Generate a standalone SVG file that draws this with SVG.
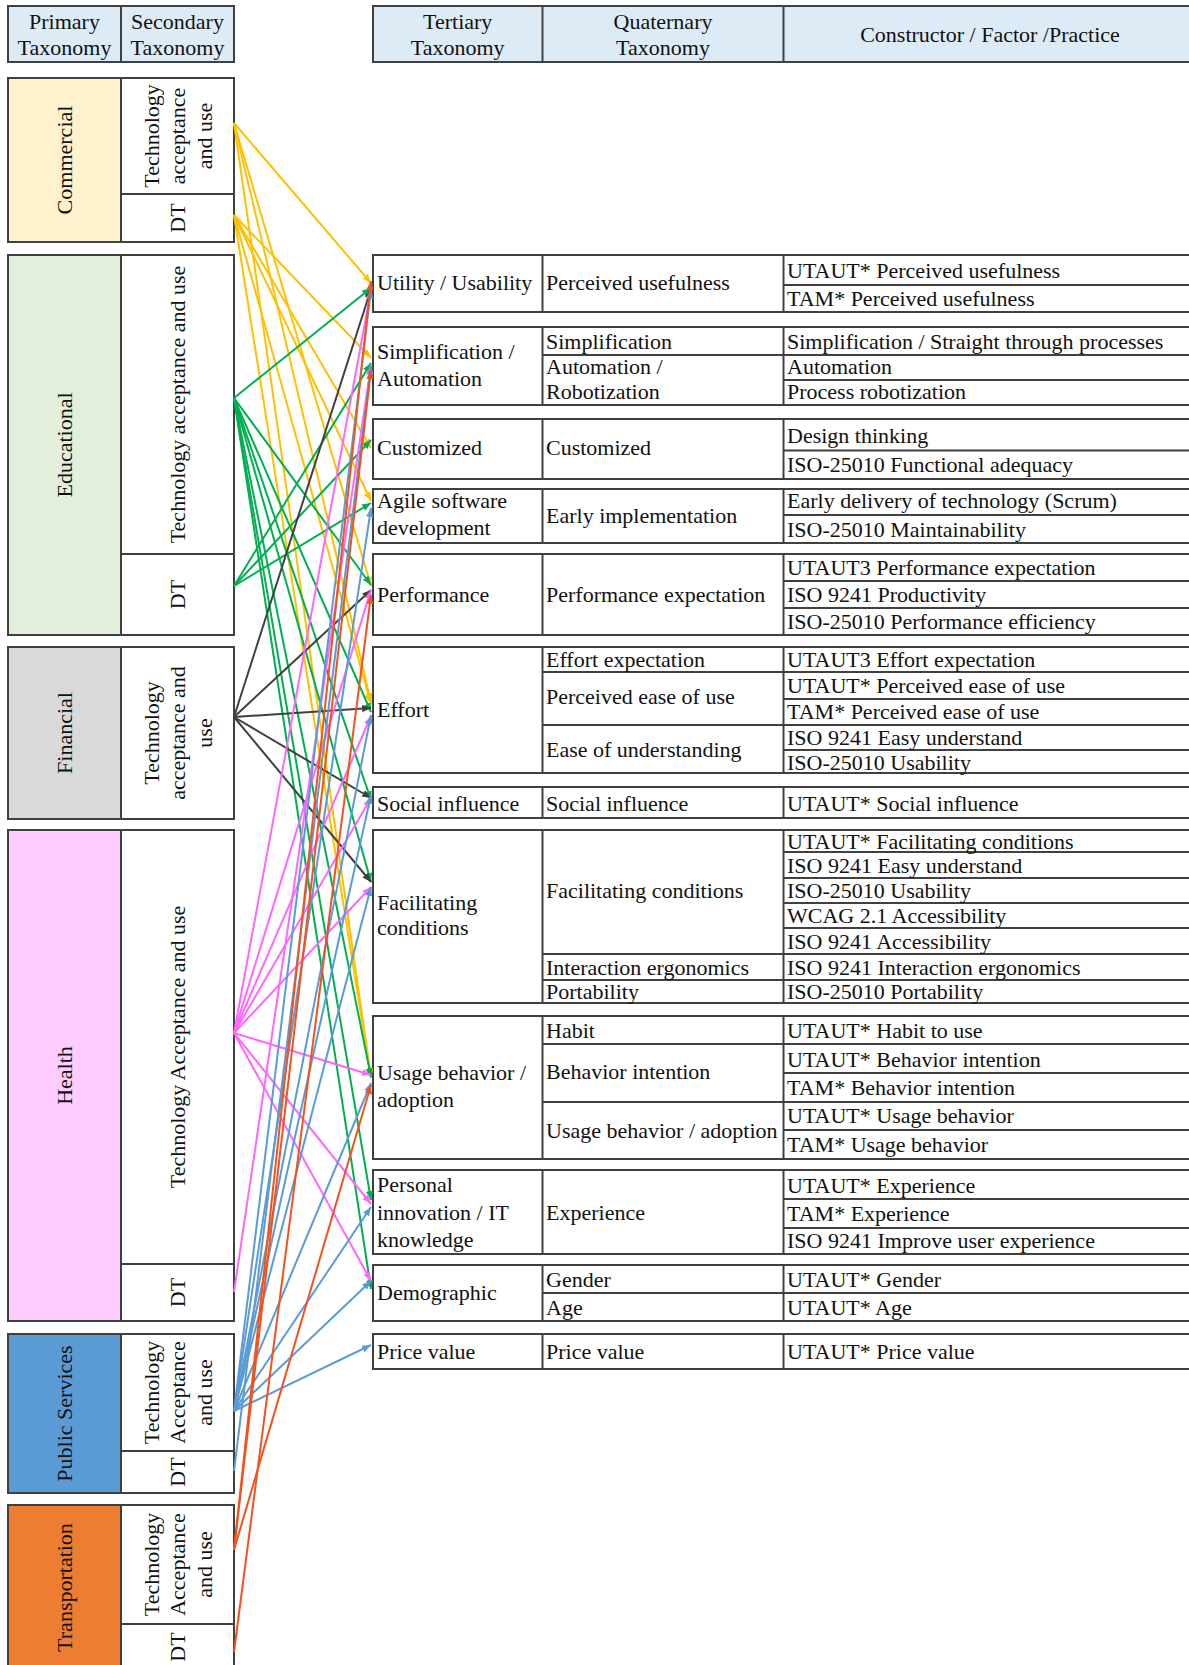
<svg xmlns="http://www.w3.org/2000/svg" width="1189" height="1665" viewBox="0 0 1189 1665">
<style>
.b{stroke:#404040;stroke-width:2;fill:#fff}
.ln{stroke:#404040;stroke-width:2;fill:none}
.t{font-family:"Liberation Serif","Times New Roman",serif;font-size:22px;fill:#111}
.m{text-anchor:middle}
.c{stroke-width:2;fill:none}
.cy{stroke:#FFC000}.cg{stroke:#00B050}.ck{stroke:#404040}.cp{stroke:#FF66FF}.cb{stroke:#5B9BD5}.co{stroke:#F4511E}
</style>
<defs>
<marker id="ay" viewBox="0 0 10 10" refX="10" refY="5" markerWidth="9" markerHeight="9" markerUnits="userSpaceOnUse" orient="auto"><path d="M0,1 L10,5 L0,9 z" fill="#FFC000"/></marker>
<marker id="ag" viewBox="0 0 10 10" refX="10" refY="5" markerWidth="9" markerHeight="9" markerUnits="userSpaceOnUse" orient="auto"><path d="M0,1 L10,5 L0,9 z" fill="#00B050"/></marker>
<marker id="ak" viewBox="0 0 10 10" refX="10" refY="5" markerWidth="9" markerHeight="9" markerUnits="userSpaceOnUse" orient="auto"><path d="M0,1 L10,5 L0,9 z" fill="#404040"/></marker>
<marker id="ap" viewBox="0 0 10 10" refX="10" refY="5" markerWidth="9" markerHeight="9" markerUnits="userSpaceOnUse" orient="auto"><path d="M0,1 L10,5 L0,9 z" fill="#FF66FF"/></marker>
<marker id="ab" viewBox="0 0 10 10" refX="10" refY="5" markerWidth="9" markerHeight="9" markerUnits="userSpaceOnUse" orient="auto"><path d="M0,1 L10,5 L0,9 z" fill="#5B9BD5"/></marker>
<marker id="ao" viewBox="0 0 10 10" refX="10" refY="5" markerWidth="9" markerHeight="9" markerUnits="userSpaceOnUse" orient="auto"><path d="M0,1 L10,5 L0,9 z" fill="#F4511E"/></marker>
</defs>
<rect width="1189" height="1665" fill="#fff"/>

<!-- Left header -->
<g id="header-left">
<rect class="b" x="8" y="6" width="226" height="56" style="fill:#DDEBF7"/>
<line class="ln" x1="121" y1="6" x2="121" y2="62"/>
<text class="t m" x="64.5" y="29">Primary</text><text class="t m" x="64.5" y="55">Taxonomy</text>
<text class="t m" x="177.5" y="29">Secondary</text><text class="t m" x="177.5" y="55">Taxonomy</text>
</g>

<g id="node-commercial">
<rect class="b" x="8" y="78" width="113" height="164" style="fill:#FFF2CC"/>
<rect class="b" x="121" y="78" width="113" height="164"/>
<line class="ln" x1="121" y1="194" x2="234" y2="194"/>
<text class="t m" transform="translate(72,160) rotate(-90)">Commercial</text>
<text class="t m" transform="translate(158.5,136) rotate(-90)">Technology</text>
<text class="t m" transform="translate(185,136) rotate(-90)">acceptance</text>
<text class="t m" transform="translate(211.5,136) rotate(-90)">and use</text>
<text class="t m" transform="translate(185,218) rotate(-90)">DT</text>
</g>

<g id="node-educational">
<rect class="b" x="8" y="255" width="113" height="380" style="fill:#E2EFDA"/>
<rect class="b" x="121" y="255" width="113" height="380"/>
<line class="ln" x1="121" y1="554" x2="234" y2="554"/>
<text class="t m" transform="translate(72,445) rotate(-90)">Educational</text>
<text class="t m" transform="translate(185,404.5) rotate(-90)">Technology acceptance and use</text>
<text class="t m" transform="translate(185,594.5) rotate(-90)">DT</text>
</g>

<g id="node-financial">
<rect class="b" x="8" y="647" width="113" height="172" style="fill:#D9D9D9"/>
<rect class="b" x="121" y="647" width="113" height="172"/>
<text class="t m" transform="translate(72,733) rotate(-90)">Financial</text>
<text class="t m" transform="translate(158.5,733) rotate(-90)">Technology</text>
<text class="t m" transform="translate(185,733) rotate(-90)">acceptance and</text>
<text class="t m" transform="translate(211.5,733) rotate(-90)">use</text>
</g>

<g id="node-health">
<rect class="b" x="8" y="830" width="113" height="491" style="fill:#FFCCFF"/>
<rect class="b" x="121" y="830" width="113" height="491"/>
<line class="ln" x1="121" y1="1264" x2="234" y2="1264"/>
<text class="t m" transform="translate(72,1075.5) rotate(-90)">Health</text>
<text class="t m" transform="translate(185,1047) rotate(-90)">Technology Acceptance and use</text>
<text class="t m" transform="translate(185,1292.5) rotate(-90)">DT</text>
</g>

<g id="node-public">
<rect class="b" x="8" y="1334" width="113" height="159" style="fill:#5B9BD5"/>
<rect class="b" x="121" y="1334" width="113" height="159"/>
<line class="ln" x1="121" y1="1451" x2="234" y2="1451"/>
<text class="t m" transform="translate(72,1413.5) rotate(-90)">Public Services</text>
<text class="t m" transform="translate(158.5,1392.5) rotate(-90)">Technology</text>
<text class="t m" transform="translate(185,1392.5) rotate(-90)">Acceptance</text>
<text class="t m" transform="translate(211.5,1392.5) rotate(-90)">and use</text>
<text class="t m" transform="translate(185,1472) rotate(-90)">DT</text>
</g>

<g id="node-transportation">
<rect class="b" x="8" y="1505" width="113" height="170" style="fill:#ED7D31"/>
<rect class="b" x="121" y="1505" width="113" height="170"/>
<line class="ln" x1="121" y1="1624" x2="234" y2="1624"/>
<text class="t m" transform="translate(72,1587.5) rotate(-90)">Transportation</text>
<text class="t m" transform="translate(158.5,1564.5) rotate(-90)">Technology</text>
<text class="t m" transform="translate(185,1564.5) rotate(-90)">Acceptance</text>
<text class="t m" transform="translate(211.5,1564.5) rotate(-90)">and use</text>
<text class="t m" transform="translate(185,1647) rotate(-90)">DT</text>
</g>

<!-- Right header -->
<g id="header-right">
<rect class="b" x="373" y="6" width="827" height="56" style="fill:#DDEBF7"/>
<line class="ln" x1="542.5" y1="6" x2="542.5" y2="62"/>
<line class="ln" x1="783.5" y1="6" x2="783.5" y2="62"/>
<text class="t m" x="457.7" y="29">Tertiary</text><text class="t m" x="457.7" y="55">Taxonomy</text>
<text class="t m" x="663" y="29">Quaternary</text><text class="t m" x="663" y="55">Taxonomy</text>
<text class="t m" x="990" y="42">Constructor / Factor /Practice</text>
</g>

<g id="node-utility">
<rect class="b" x="373" y="255" width="827" height="57"/>
<line class="ln" x1="542.5" y1="255" x2="542.5" y2="312"/><line class="ln" x1="783.5" y1="255" x2="783.5" y2="312"/>
<line class="ln" x1="783.5" y1="285" x2="1200" y2="285"/>
<text class="t" x="377" y="290">Utility / Usability</text>
<text class="t" x="546" y="290">Perceived usefulness</text>
<text class="t" x="787" y="278">UTAUT* Perceived usefulness</text>
<text class="t" x="787" y="306">TAM* Perceived usefulness</text>
</g>

<g id="node-simplification">
<rect class="b" x="373" y="327" width="827" height="78"/>
<line class="ln" x1="542.5" y1="327" x2="542.5" y2="405"/><line class="ln" x1="783.5" y1="327" x2="783.5" y2="405"/>
<line class="ln" x1="542.5" y1="355" x2="1200" y2="355"/>
<line class="ln" x1="783.5" y1="380" x2="1200" y2="380"/>
<text class="t" x="377" y="359">Simplification /</text>
<text class="t" x="377" y="386">Automation</text>
<text class="t" x="546" y="349">Simplification</text>
<text class="t" x="546" y="374">Automation /</text>
<text class="t" x="546" y="399">Robotization</text>
<text class="t" x="787" y="349">Simplification / Straight through processes</text>
<text class="t" x="787" y="374">Automation</text>
<text class="t" x="787" y="399">Process robotization</text>
</g>

<g id="node-customized">
<rect class="b" x="373" y="419" width="827" height="60"/>
<line class="ln" x1="542.5" y1="419" x2="542.5" y2="479"/><line class="ln" x1="783.5" y1="419" x2="783.5" y2="479"/>
<line class="ln" x1="783.5" y1="450.5" x2="1200" y2="450.5"/>
<text class="t" x="377" y="455">Customized</text>
<text class="t" x="546" y="455">Customized</text>
<text class="t" x="787" y="443">Design thinking</text>
<text class="t" x="787" y="472">ISO-25010 Functional adequacy</text>
</g>

<g id="node-agile">
<rect class="b" x="373" y="489" width="827" height="54"/>
<line class="ln" x1="542.5" y1="489" x2="542.5" y2="543"/><line class="ln" x1="783.5" y1="489" x2="783.5" y2="543"/>
<line class="ln" x1="783.5" y1="515" x2="1200" y2="515"/>
<text class="t" x="377" y="508">Agile software</text>
<text class="t" x="377" y="535">development</text>
<text class="t" x="546" y="523">Early implementation</text>
<text class="t" x="787" y="508">Early delivery of technology (Scrum)</text>
<text class="t" x="787" y="537">ISO-25010 Maintainability</text>
</g>

<g id="node-performance">
<rect class="b" x="373" y="554" width="827" height="81"/>
<line class="ln" x1="542.5" y1="554" x2="542.5" y2="635"/><line class="ln" x1="783.5" y1="554" x2="783.5" y2="635"/>
<line class="ln" x1="783.5" y1="581" x2="1200" y2="581"/>
<line class="ln" x1="783.5" y1="608" x2="1200" y2="608"/>
<text class="t" x="377" y="602">Performance</text>
<text class="t" x="546" y="602">Performance expectation</text>
<text class="t" x="787" y="575">UTAUT3 Performance expectation</text>
<text class="t" x="787" y="602">ISO 9241 Productivity</text>
<text class="t" x="787" y="629">ISO-25010 Performance efficiency</text>
</g>

<g id="node-effort">
<rect class="b" x="373" y="647" width="827" height="126"/>
<line class="ln" x1="542.5" y1="647" x2="542.5" y2="773"/><line class="ln" x1="783.5" y1="647" x2="783.5" y2="773"/>
<line class="ln" x1="542.5" y1="672" x2="1200" y2="672"/>
<line class="ln" x1="783.5" y1="699" x2="1200" y2="699"/>
<line class="ln" x1="542.5" y1="725" x2="1200" y2="725"/>
<line class="ln" x1="783.5" y1="750" x2="1200" y2="750"/>
<text class="t" x="377" y="717">Effort</text>
<text class="t" x="546" y="667">Effort expectation</text>
<text class="t" x="546" y="704">Perceived ease of use</text>
<text class="t" x="546" y="757">Ease of understanding</text>
<text class="t" x="787" y="667">UTAUT3 Effort expectation</text>
<text class="t" x="787" y="693">UTAUT* Perceived ease of use</text>
<text class="t" x="787" y="719">TAM* Perceived ease of use</text>
<text class="t" x="787" y="745">ISO 9241 Easy understand</text>
<text class="t" x="787" y="770">ISO-25010 Usability</text>
</g>

<g id="node-social">
<rect class="b" x="373" y="787" width="827" height="31"/>
<line class="ln" x1="542.5" y1="787" x2="542.5" y2="818"/><line class="ln" x1="783.5" y1="787" x2="783.5" y2="818"/>
<text class="t" x="377" y="811">Social influence</text>
<text class="t" x="546" y="811">Social influence</text>
<text class="t" x="787" y="811">UTAUT* Social influence</text>
</g>

<g id="node-facilitating">
<rect class="b" x="373" y="830" width="827" height="173"/>
<line class="ln" x1="542.5" y1="830" x2="542.5" y2="1003"/><line class="ln" x1="783.5" y1="830" x2="783.5" y2="1003"/>
<line class="ln" x1="783.5" y1="852" x2="1200" y2="852"/>
<line class="ln" x1="783.5" y1="878" x2="1200" y2="878"/>
<line class="ln" x1="783.5" y1="903" x2="1200" y2="903"/>
<line class="ln" x1="783.5" y1="928" x2="1200" y2="928"/>
<line class="ln" x1="542.5" y1="954" x2="1200" y2="954"/>
<line class="ln" x1="542.5" y1="980" x2="1200" y2="980"/>
<text class="t" x="377" y="910">Facilitating</text>
<text class="t" x="377" y="935">conditions</text>
<text class="t" x="546" y="898">Facilitating conditions</text>
<text class="t" x="546" y="975">Interaction ergonomics</text>
<text class="t" x="546" y="999">Portability</text>
<text class="t" x="787" y="849">UTAUT* Facilitating conditions</text>
<text class="t" x="787" y="873">ISO 9241 Easy understand</text>
<text class="t" x="787" y="898">ISO-25010 Usability</text>
<text class="t" x="787" y="923">WCAG 2.1 Accessibility</text>
<text class="t" x="787" y="949">ISO 9241 Accessibility</text>
<text class="t" x="787" y="975">ISO 9241 Interaction ergonomics</text>
<text class="t" x="787" y="999">ISO-25010 Portability</text>
</g>

<g id="node-usage">
<rect class="b" x="373" y="1016" width="827" height="143"/>
<line class="ln" x1="542.5" y1="1016" x2="542.5" y2="1159"/><line class="ln" x1="783.5" y1="1016" x2="783.5" y2="1159"/>
<line class="ln" x1="542.5" y1="1044" x2="1200" y2="1044"/>
<line class="ln" x1="783.5" y1="1073" x2="1200" y2="1073"/>
<line class="ln" x1="542.5" y1="1102" x2="1200" y2="1102"/>
<line class="ln" x1="783.5" y1="1130" x2="1200" y2="1130"/>
<text class="t" x="377" y="1080">Usage behavior /</text>
<text class="t" x="377" y="1107">adoption</text>
<text class="t" x="546" y="1038">Habit</text>
<text class="t" x="546" y="1079">Behavior intention</text>
<text class="t" x="546" y="1138">Usage behavior / adoption</text>
<text class="t" x="787" y="1038">UTAUT* Habit to use</text>
<text class="t" x="787" y="1067">UTAUT* Behavior intention</text>
<text class="t" x="787" y="1095">TAM* Behavior intention</text>
<text class="t" x="787" y="1123">UTAUT* Usage behavior</text>
<text class="t" x="787" y="1152">TAM* Usage behavior</text>
</g>

<g id="node-personal">
<rect class="b" x="373" y="1170" width="827" height="84"/>
<line class="ln" x1="542.5" y1="1170" x2="542.5" y2="1254"/><line class="ln" x1="783.5" y1="1170" x2="783.5" y2="1254"/>
<line class="ln" x1="783.5" y1="1199" x2="1200" y2="1199"/>
<line class="ln" x1="783.5" y1="1228" x2="1200" y2="1228"/>
<text class="t" x="377" y="1192">Personal</text>
<text class="t" x="377" y="1220">innovation / IT</text>
<text class="t" x="377" y="1247">knowledge</text>
<text class="t" x="546" y="1220">Experience</text>
<text class="t" x="787" y="1193">UTAUT* Experience</text>
<text class="t" x="787" y="1221">TAM* Experience</text>
<text class="t" x="787" y="1248">ISO 9241 Improve user experience</text>
</g>

<g id="node-demographic">
<rect class="b" x="373" y="1265" width="827" height="56"/>
<line class="ln" x1="542.5" y1="1265" x2="542.5" y2="1321"/><line class="ln" x1="783.5" y1="1265" x2="783.5" y2="1321"/>
<line class="ln" x1="542.5" y1="1293" x2="1200" y2="1293"/>
<text class="t" x="377" y="1300">Demographic</text>
<text class="t" x="546" y="1287">Gender</text>
<text class="t" x="546" y="1315">Age</text>
<text class="t" x="787" y="1287">UTAUT* Gender</text>
<text class="t" x="787" y="1315">UTAUT* Age</text>
</g>

<g id="node-price">
<rect class="b" x="373" y="1334" width="827" height="35"/>
<line class="ln" x1="542.5" y1="1334" x2="542.5" y2="1369"/><line class="ln" x1="783.5" y1="1334" x2="783.5" y2="1369"/>
<text class="t" x="377" y="1359">Price value</text>
<text class="t" x="546" y="1359">Price value</text>
<text class="t" x="787" y="1359">UTAUT* Price value</text>
</g>

<g id="connectors" class="c">
<!-- Commercial (yellow) -->
<g class="cy">
<line x1="234" y1="123" x2="371" y2="283" marker-end="url(#ay)"/>
<line x1="234" y1="123" x2="371" y2="586" marker-end="url(#ay)"/>
<line x1="234" y1="123" x2="371" y2="702" marker-end="url(#ay)"/>
<line x1="234" y1="123" x2="371" y2="1077" marker-end="url(#ay)"/>
<line x1="234" y1="215" x2="371" y2="358" marker-end="url(#ay)"/>
<line x1="234" y1="215" x2="371" y2="448" marker-end="url(#ay)"/>
<line x1="234" y1="215" x2="371" y2="501" marker-end="url(#ay)"/>
<line x1="234" y1="215" x2="371" y2="704" marker-end="url(#ay)"/>
<line x1="234" y1="215" x2="371" y2="1078" marker-end="url(#ay)"/>
</g>
<!-- Educational (green) -->
<g class="cg">
<line x1="234" y1="398" x2="371" y2="288" marker-end="url(#ag)"/>
<line x1="234" y1="398" x2="371" y2="585" marker-end="url(#ag)"/>
<line x1="234" y1="398" x2="371" y2="712" marker-end="url(#ag)"/>
<line x1="234" y1="398" x2="371" y2="800" marker-end="url(#ag)"/>
<line x1="234" y1="398" x2="371" y2="882" marker-end="url(#ag)"/>
<line x1="234" y1="398" x2="371" y2="1077" marker-end="url(#ag)"/>
<line x1="234" y1="398" x2="371" y2="1200" marker-end="url(#ag)"/>
<line x1="234" y1="398" x2="371" y2="1289" marker-end="url(#ag)"/>
<line x1="234" y1="586" x2="371" y2="363" marker-end="url(#ag)"/>
<line x1="234" y1="586" x2="371" y2="440" marker-end="url(#ag)"/>
<line x1="234" y1="586" x2="371" y2="503" marker-end="url(#ag)"/>
</g>
<!-- Financial (dark) -->
<g class="ck">
<line x1="234" y1="717" x2="371" y2="289" marker-end="url(#ak)"/>
<line x1="234" y1="717" x2="371" y2="590" marker-end="url(#ak)"/>
<line x1="234" y1="717" x2="371" y2="708" marker-end="url(#ak)"/>
<line x1="234" y1="717" x2="371" y2="798" marker-end="url(#ak)"/>
<line x1="234" y1="717" x2="371" y2="882" marker-end="url(#ak)"/>
</g>
<!-- Health (pink) -->
<g class="cp">
<line x1="234" y1="1033" x2="371" y2="290" marker-end="url(#ap)"/>
<line x1="234" y1="1033" x2="371" y2="590" marker-end="url(#ap)"/>
<line x1="234" y1="1033" x2="371" y2="716" marker-end="url(#ap)"/>
<line x1="234" y1="1033" x2="371" y2="798" marker-end="url(#ap)"/>
<line x1="234" y1="1033" x2="371" y2="887" marker-end="url(#ap)"/>
<line x1="234" y1="1033" x2="371" y2="1075" marker-end="url(#ap)"/>
<line x1="234" y1="1033" x2="371" y2="1204" marker-end="url(#ap)"/>
<line x1="234" y1="1033" x2="371" y2="1281" marker-end="url(#ap)"/>
<line x1="234" y1="1292" x2="371" y2="365" marker-end="url(#ap)"/>
</g>
<!-- Public services (blue) -->
<g class="cb">
<line x1="234" y1="1411" x2="371" y2="290" marker-end="url(#ab)"/>
<line x1="234" y1="1411" x2="371" y2="508" marker-end="url(#ab)"/>
<line x1="234" y1="1411" x2="371" y2="715" marker-end="url(#ab)"/>
<line x1="234" y1="1411" x2="371" y2="795" marker-end="url(#ab)"/>
<line x1="234" y1="1411" x2="371" y2="887" marker-end="url(#ab)"/>
<line x1="234" y1="1411" x2="371" y2="1083" marker-end="url(#ab)"/>
<line x1="234" y1="1411" x2="371" y2="1207" marker-end="url(#ab)"/>
<line x1="234" y1="1411" x2="371" y2="1281" marker-end="url(#ab)"/>
<line x1="234" y1="1411" x2="371" y2="1345" marker-end="url(#ab)"/>
<line x1="234" y1="1471" x2="371" y2="366" marker-end="url(#ab)"/>
</g>
<!-- Transportation (orange) -->
<g class="co">
<line x1="234" y1="1550" x2="371" y2="281" marker-end="url(#ao)"/>
<line x1="234" y1="1550" x2="371" y2="370" marker-end="url(#ao)"/>
<line x1="234" y1="1550" x2="371" y2="1085" marker-end="url(#ao)"/>
<line x1="234" y1="1652" x2="371" y2="595" marker-end="url(#ao)"/>
</g>
</g>
</svg>
